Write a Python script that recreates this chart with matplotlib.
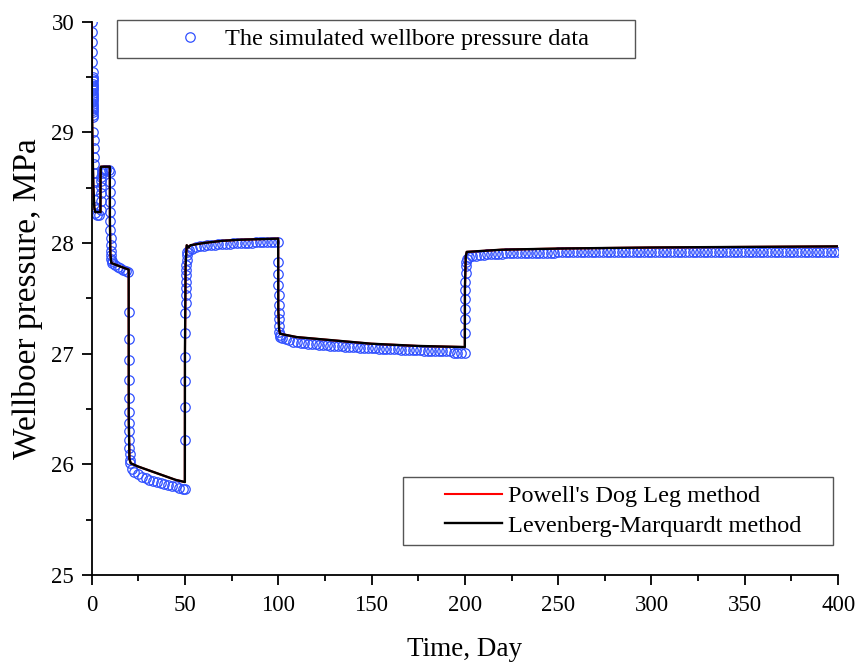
import matplotlib
matplotlib.use("Agg")
import matplotlib.pyplot as plt
from matplotlib.patches import Rectangle
from matplotlib.ticker import MultipleLocator

plt.rcParams['font.family'] = ['Liberation Serif', 'DejaVu Serif']

# simulated wellbore pressure (circles)
t_sim = [
    0.3, 0.35, 0.4, 0.45, 0.5, 0.55,
    0.6, 0.62, 0.64, 0.66, 0.68, 0.7, 0.72, 0.74, 0.76, 0.78,
    0.8, 0.82, 0.84, 0.86, 0.88, 0.9, 0.92, 0.94, 0.96,
    1.0, 1.1, 1.2, 1.3, 1.4, 1.5, 1.6, 1.7, 1.8, 1.9, 2.0,
    3.0, 4.0,
    5.0, 5.05, 5.1, 5.15, 5.2, 5.3, 5.4, 5.6, 6.5, 8.0, 9.5,
    10.0, 10.02, 10.04, 10.06, 10.08, 10.1, 10.15, 10.2, 10.3, 10.4, 10.5, 10.6, 10.8, 11.0,
    12.5, 14.0, 15.5, 17.0, 18.5, 19.8,
    20.02, 20.04, 20.06, 20.08, 20.1, 20.12, 20.15, 20.2, 20.25, 20.3, 20.4, 20.5, 20.7,
    21.5, 23, 25, 27, 29, 31, 33, 35, 37, 39, 41, 43, 45, 47, 49, 50,
    50.05, 50.1, 50.15, 50.2, 50.25, 50.3, 50.35, 50.4, 50.45, 50.5, 50.6, 50.7, 50.8, 50.9, 51.0, 51.2,
    52, 54, 56, 58, 60, 62, 64, 66, 68, 70, 72, 74, 76, 78, 80, 82, 84, 86, 88, 90, 92, 94, 96, 98, 100,
    100.05, 100.1, 100.15, 100.2, 100.25, 100.3, 100.4, 100.5, 100.6, 100.8, 101.0,
    102, 104, 106, 108, 110, 112, 114, 116, 118, 120, 122, 124, 126, 128, 130, 132, 134, 136, 138, 140,
    142, 144, 146, 148, 150, 152, 154, 156, 158, 160, 162, 164, 166, 168, 170, 172, 174, 176, 178, 180,
    182, 184, 186, 188, 190, 192, 194, 196, 198, 200,
    200.05, 200.1, 200.15, 200.2, 200.25, 200.3, 200.4, 200.5, 200.7, 201.0,
    202, 204, 206, 208, 210, 212, 214, 216, 218, 220, 222, 224, 226, 228, 230, 232, 234, 236, 238, 240,
    242, 244, 246, 248, 250, 252, 254, 256, 258, 260, 262, 264, 266, 268, 270, 272, 274, 276, 278, 280,
    282, 284, 286, 288, 290, 292, 294, 296, 298, 300, 302, 304, 306, 308, 310, 312, 314, 316, 318, 320,
    322, 324, 326, 328, 330, 332, 334, 336, 338, 340, 342, 344, 346, 348, 350, 352, 354, 356, 358, 360,
    362, 364, 366, 368, 370, 372, 374, 376, 378, 380, 382, 384, 386, 388, 390, 392, 394, 396, 398, 400,
]
p_sim = [
    30.00, 29.91, 29.82, 29.73, 29.64, 29.55,
    29.50, 29.48, 29.46, 29.44, 29.42, 29.40, 29.38, 29.36, 29.34, 29.32,
    29.30, 29.28, 29.26, 29.24, 29.22, 29.20, 29.18, 29.16, 29.14,
    29.00, 28.93, 28.86, 28.78, 28.71, 28.63, 28.55, 28.48, 28.39, 28.33, 28.27,
    28.25, 28.25,
    28.30, 28.38, 28.45, 28.51, 28.56, 28.60, 28.63, 28.65, 28.66, 28.66, 28.66,
    28.64, 28.55, 28.46, 28.37, 28.28, 28.20, 28.12, 28.05, 27.98, 27.93, 27.89, 27.86, 27.84, 27.82,
    27.80, 27.78, 27.77, 27.76, 27.75, 27.74,
    27.38, 27.13, 26.94, 26.76, 26.60, 26.47, 26.37, 26.30, 26.22, 26.15, 26.09, 26.04, 26.01,
    25.96, 25.93, 25.91, 25.89, 25.88, 25.86, 25.85, 25.84, 25.83, 25.82, 25.81, 25.80, 25.80, 25.79, 25.78, 25.78,
    26.22, 26.52, 26.75, 26.97, 27.19, 27.37, 27.46, 27.53, 27.59, 27.65, 27.71, 27.76, 27.80, 27.85, 27.89, 27.92,
    27.94, 27.95, 27.96, 27.97, 27.97, 27.98, 27.98, 27.98, 27.99, 27.99, 27.99, 27.99, 28.00, 28.00, 28.00,
    28.00, 28.00, 28.00, 28.01, 28.01, 28.01, 28.01, 28.01, 28.01, 28.01,
    27.83, 27.72, 27.62, 27.53, 27.44, 27.37, 27.31, 27.25, 27.20, 27.17, 27.15,
    27.14, 27.13, 27.12, 27.11, 27.11, 27.10, 27.10, 27.09, 27.09, 27.09, 27.08, 27.08, 27.08, 27.07, 27.07,
    27.07, 27.07, 27.06, 27.06, 27.06, 27.06, 27.05, 27.05, 27.05, 27.05, 27.05, 27.04, 27.04, 27.04, 27.04,
    27.04, 27.04, 27.03, 27.03, 27.03, 27.03, 27.03, 27.03, 27.02, 27.02, 27.02, 27.02, 27.02, 27.02, 27.02,
    27.02, 27.01, 27.01, 27.01, 27.01,
    27.19, 27.31, 27.40, 27.49, 27.58, 27.65, 27.73, 27.79, 27.83, 27.86,
    27.87, 27.88, 27.88, 27.89, 27.89, 27.90, 27.90, 27.90, 27.90, 27.90,
    27.91, 27.91, 27.91, 27.91, 27.91, 27.91, 27.91, 27.91, 27.91, 27.91,
    27.91, 27.91, 27.91, 27.91, 27.92, 27.92, 27.92, 27.92, 27.92, 27.92,
    27.92, 27.92, 27.92, 27.92, 27.92, 27.92, 27.92, 27.92, 27.92, 27.92,
    27.92, 27.92, 27.92, 27.92, 27.92, 27.92, 27.92, 27.92, 27.92, 27.92,
    27.92, 27.92, 27.92, 27.92, 27.92, 27.92, 27.92, 27.92, 27.92, 27.92,
    27.92, 27.92, 27.92, 27.92, 27.92, 27.92, 27.92, 27.92, 27.92, 27.92,
    27.92, 27.92, 27.92, 27.92, 27.92, 27.92, 27.92, 27.92, 27.92, 27.92,
    27.92, 27.92, 27.92, 27.92, 27.92, 27.92, 27.92, 27.92, 27.92, 27.92,
    27.92, 27.92, 27.92, 27.92, 27.92, 27.92, 27.92, 27.92, 27.92, 27.92,
]

# fitted curves (both methods overlap)
t_fit = [0.0, 0.2, 0.5, 1.0, 1.5, 2.0, 4.8, 4.85, 5.0, 9.8, 9.85, 10.1, 10.6, 15.0, 19.9,
         19.95, 20.3, 21.0, 25, 30, 35, 40, 45, 50,
         50.05, 50.4, 51.0, 52.0, 53.0, 60, 70, 80, 100,
         100.05, 100.5, 101.0, 110, 130, 150, 175, 200,
         200.05, 200.5, 201.0, 220, 250, 300, 400]
p_fit = [30.0, 29.3, 28.9, 28.5, 28.32, 28.28, 28.28, 28.6, 28.69, 28.69, 28.2, 27.9, 27.82, 27.79, 27.76,
         26.4, 26.05, 26.01, 25.98, 25.95, 25.92, 25.89, 25.86, 25.84,
         27.0, 27.8, 27.98, 27.96, 27.98, 28.0, 28.02, 28.03, 28.04,
         27.4, 27.22, 27.18, 27.15, 27.12, 27.09, 27.07, 27.06,
         27.6, 27.88, 27.92, 27.94, 27.95, 27.96, 27.97]

fig = plt.figure(figsize=(8.57, 6.62), dpi=100)
ax = fig.add_axes([0.1068, 0.1314, 0.8712, 0.8358])

circles, = ax.plot(t_sim, p_sim, 'o', ms=6.8, mfc='none', mec='#3050ff', mew=0.9, zorder=2)
red_line, = ax.plot(t_fit, p_fit, color='red', lw=1.5, zorder=3)
black_line, = ax.plot(t_fit, p_fit, color='black', lw=1.7, zorder=4)

ax.set_xlim(0, 400)
ax.set_ylim(25, 30)
ax.xaxis.set_major_locator(MultipleLocator(50))
ax.xaxis.set_minor_locator(MultipleLocator(25))
ax.yaxis.set_major_locator(MultipleLocator(1))
ax.yaxis.set_minor_locator(MultipleLocator(0.5))
for s in ['top', 'right']:
    ax.spines[s].set_visible(False)
for s in ['left', 'bottom']:
    ax.spines[s].set_linewidth(1.3)
ax.tick_params(which='major', direction='out', length=7.5, width=1.3, labelsize=16.5)
ax.tick_params(axis='x', which='major', pad=7)
ax.tick_params(axis='y', which='major', pad=5)
ax.tick_params(which='minor', direction='out', length=4.5, width=1.3)

ax.set_xlabel('Time, Day', fontsize=19.5, labelpad=15)
ax.set_ylabel('Wellboer pressure, MPa', fontsize=24, labelpad=6)

# legends drawn without frame, frames added as rectangles
leg1 = fig.legend([circles], ['The simulated wellbore pressure data'], loc='center left',
                  bbox_to_anchor=(0.1865, 0.941), frameon=False, fontsize=17.5,
                  handlelength=2.5, handletextpad=0.2, borderpad=0, borderaxespad=0)
leg2 = fig.legend([red_line, black_line], ["Powell's Dog Leg method", 'Levenberg-Marquardt method'],
                  loc='center left', bbox_to_anchor=(0.5193, 0.228), frameon=False, fontsize=17.5,
                  handlelength=2.35, handletextpad=0.26, labelspacing=0.3, borderpad=0, borderaxespad=0)
fig.patches.append(Rectangle((0.1365, 0.9124), 0.6044, 0.0574, transform=fig.transFigure,
                             fill=False, ec='#555555', lw=1.0))
fig.patches.append(Rectangle((0.4702, 0.1767), 0.5018, 0.1027, transform=fig.transFigure,
                             fill=False, ec='#555555', lw=1.0))

fig.savefig('out.png', dpi=100)
